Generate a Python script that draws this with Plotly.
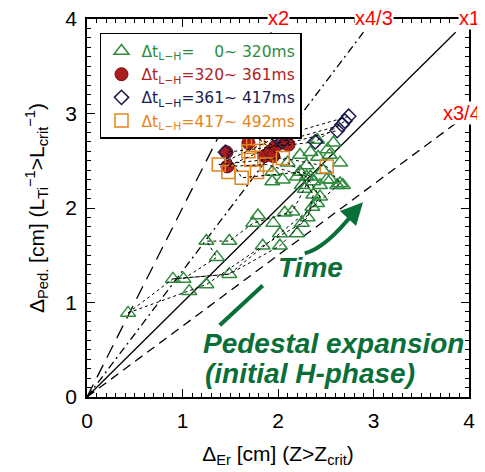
import plotly.graph_objects as go

# ---------------- data ----------------
green_x = [0.43, 0.90, 1.01, 1.07, 1.25, 1.49, 1.25, 1.49, 1.36, 1.84, 2.02, 1.74, 1.79, 1.95,
           2.02, 2.20, 2.25, 2.07, 2.15, 2.31, 1.94, 2.05, 2.25, 2.37, 2.44, 2.36, 2.41, 2.65,
           2.55, 2.34, 2.10, 2.23, 2.34, 2.42, 2.54, 2.58, 2.41, 2.23, 2.30, 2.20, 2.37, 2.44,
           2.51, 2.65, 2.62, 2.68, 1.94, 2.30, 2.28, 2.47, 2.52]
green_y = [0.89, 1.25, 1.25, 1.12, 1.19, 1.30, 1.65, 1.65, 1.48, 1.60, 1.60, 1.84, 1.92, 1.84,
           1.73, 1.73, 1.84, 1.95, 1.96, 1.90, 2.28, 2.30, 2.24, 2.14, 2.12, 2.01, 2.05, 2.26,
           2.30, 2.33, 2.48, 2.56, 2.59, 2.54, 2.56, 2.69, 2.72, 2.38, 2.33, 2.33, 2.28, 2.24,
           2.30, 2.48, 2.24, 2.24, 2.38, 2.45, 2.20, 2.40, 2.62]

red_x = [1.46, 1.47, 1.69, 1.86, 1.92, 1.97, 2.07, 2.11, 1.95]
red_y = [2.59, 2.44, 2.69, 2.55, 2.60, 2.65, 2.69, 2.67, 2.55]

navy_x = [1.45, 1.99, 2.04, 2.39, 2.62, 2.67, 2.70, 2.74]
navy_y = [2.59, 2.75, 2.70, 2.70, 2.82, 2.88, 2.92, 2.97]

orange_x = [1.38, 1.48, 1.62, 1.72, 1.79, 1.74, 1.78, 1.88, 2.05, 2.51, 1.69]
orange_y = [2.46, 2.38, 2.32, 2.51, 2.74, 2.67, 2.38, 2.46, 2.53, 2.44, 2.60]

# dotted time traces
chain1_x = [0.43, 1.07, 1.25, 1.84, 2.25, 2.44, 2.30, 1.88, 1.47, 2.04, 2.67]
chain1_y = [0.89, 1.12, 1.19, 1.60, 1.84, 2.12, 2.33, 2.46, 2.44, 2.70, 2.88]
chain2_x = [0.90, 1.49, 2.02, 2.31, 2.37, 2.23, 1.62, 1.46, 2.39, 2.70]
chain2_y = [1.25, 1.30, 1.60, 1.90, 2.14, 2.38, 2.32, 2.59, 2.70, 2.92]
chain3_x = [1.01, 1.36, 1.25, 1.49, 1.74, 2.15, 2.34, 2.10, 1.79, 1.97, 2.62]
chain3_y = [1.25, 1.48, 1.65, 1.65, 1.84, 1.96, 2.33, 2.48, 2.74, 2.65, 2.82]
chain4_x = [0.43, 0.90, 1.49, 2.02, 2.41, 2.65, 2.51, 2.05, 1.38, 1.99, 2.74]
chain4_y = [0.89, 1.25, 1.30, 1.73, 2.05, 2.26, 2.44, 2.53, 2.46, 2.75, 2.97]

legend_labels = ["\u2007\u20070~ 320ms", "320~ 361ms", "361~ 417ms", "417~ 492ms"]

ref_slopes = [2.0, 4.0 / 3.0, 1.0, 0.75]
ref_labels = ["x2", "x4/3", "x1", "x3/4"]

# ---------------- style ----------------
GREEN = "#2e8b3e"
RED = "#a81e1e"
NAVY = "#1c1c4e"
ORANGE = "#e5841c"
ARROWGREEN = "#0a6e38"
FONT = "Liberation Sans"
XMAX = 4.0
YMAX = 4.0
END_FRAC = 0.965
ref_dash = ["14px,8px", "8px,4px,2px,4px", None, "9px,6px"]
ref_label_xshift = [0, 0, 0, -7]

fig = go.Figure()

# reference lines
for k, d in zip(ref_slopes, ref_dash):
    xe = min(XMAX, YMAX / k) * END_FRAC
    fig.add_trace(go.Scatter(x=[0, xe], y=[0, k * xe], mode="lines",
                             line=dict(color="black", width=1.3, dash=d if d else "solid"),
                             showlegend=False, hoverinfo="skip"))

def leg(txt, col):
    return (f'<span style="color:{col}">\u0394t<sub>L\u2212H</sub>={txt}</span>')

fig.add_trace(go.Scatter(x=green_x, y=green_y, mode="markers", name=leg(legend_labels[0], GREEN),
                         marker=dict(symbol="triangle-up-open", size=13, color=GREEN,
                                     line=dict(width=1.5, color=GREEN))))
fig.add_trace(go.Scatter(x=red_x, y=red_y, mode="markers", name=leg(legend_labels[1], "#b22222"),
                         marker=dict(symbol="circle", size=13, color=RED,
                                     line=dict(width=1, color="#7a1010"))))
fig.add_trace(go.Scatter(x=navy_x, y=navy_y, mode="markers", name=leg(legend_labels[2], NAVY),
                         marker=dict(symbol="diamond-open", size=11, color=NAVY,
                                     line=dict(width=1.5, color=NAVY))))
fig.add_trace(go.Scatter(x=orange_x, y=orange_y, mode="markers", name=leg(legend_labels[3], ORANGE),
                         marker=dict(symbol="square-open", size=13, color=ORANGE,
                                     line=dict(width=1.5, color=ORANGE))))

for cx, cy in [(chain1_x, chain1_y), (chain2_x, chain2_y), (chain3_x, chain3_y), (chain4_x, chain4_y)]:
    fig.add_trace(go.Scatter(x=cx, y=cy, mode="lines", line=dict(color="black", width=1, dash="dot"),
                             showlegend=False, hoverinfo="skip"))

# reference labels (white boxes interrupt the frame)
for k, lab, xs in zip(ref_slopes, ref_labels, ref_label_xshift):
    xe = min(XMAX, YMAX / k)
    fig.add_annotation(x=xe, y=k * xe, text=lab, showarrow=False, bgcolor="white",
                       font=dict(family=FONT, size=20, color="#ff0000"),
                       yshift=1, xshift=xs, borderpad=0)

# green arrows and texts
fig.add_shape(type="line", x0=1.39, y0=0.76, x1=1.84, y1=1.18, xref="x", yref="y",
              line=dict(color=ARROWGREEN, width=4))
fig.add_shape(type="path", path="M 2.28,1.52 Q 2.50,1.575 2.80,1.96", xref="x", yref="y",
              line=dict(color=ARROWGREEN, width=4))
fig.add_annotation(x=2.89, y=2.06, ax=2.78, ay=1.94, xref="x", yref="y", axref="x", ayref="y",
                   showarrow=True, arrowhead=2, arrowsize=1.1, arrowwidth=4,
                   arrowcolor=ARROWGREEN, text="")
fig.add_annotation(x=2.34, y=1.37, text="<b><i>Time</i></b>", showarrow=False,
                   font=dict(family=FONT, size=28, color=ARROWGREEN))
fig.add_annotation(x=1.19, y=0.57, text="<b><i>Pedestal expansion</i></b>", showarrow=False,
                   xanchor="left", font=dict(family=FONT, size=28, color=ARROWGREEN))
fig.add_annotation(x=1.21, y=0.25, text="<b><i>(initial H-phase)</i></b>", showarrow=False,
                   xanchor="left", font=dict(family=FONT, size=28, color=ARROWGREEN))

axis_common = dict(range=[0, 4], tickvals=[0, 1, 2, 3, 4], showline=True, linecolor="black",
                   linewidth=1.5, mirror="ticks", ticks="inside", ticklen=8, tickwidth=1.2,
                   tickcolor="black", showgrid=False, zeroline=False, automargin=False,
                   ticklabeloverflow="allow",
                   tickfont=dict(family=FONT, size=21, color="black"),
                   minor=dict(dtick=0.1, ticks="inside", ticklen=4, tickwidth=1, tickcolor="black",
                              showgrid=False))

# the page body adds an 8px offset, so the figure is sized to fit the window
fig.update_layout(
    width=477, height=464,
    margin=dict(l=79, r=16, t=11, b=75, autoexpand=False),
    plot_bgcolor="white", paper_bgcolor="white",
    xaxis=dict(**axis_common, ticklabelstandoff=4,
               title=dict(text="\u0394<sub>Er</sub> [cm] (Z>Z<sub>crit</sub>)",
                          font=dict(family=FONT, size=21, color="black"))),
    yaxis=dict(**axis_common, ticklabelstandoff=4,
               title=dict(text="\u0394<sub>Ped.</sub> [cm] (L<sub>Ti</sub><sup>\u22121</sup>>L<sub>crit</sub><sup>\u22121</sup>)",
                          font=dict(family=FONT, size=21, color="black"))),
    legend=dict(x=0.034, y=0.963, xanchor="left", yanchor="top", bgcolor="white",
                bordercolor="black", borderwidth=1.5,
                font=dict(family="DejaVu Sans", size=15.5), tracegroupgap=0, itemwidth=30),
    showlegend=True,
)

fig.write_html("out.html")
